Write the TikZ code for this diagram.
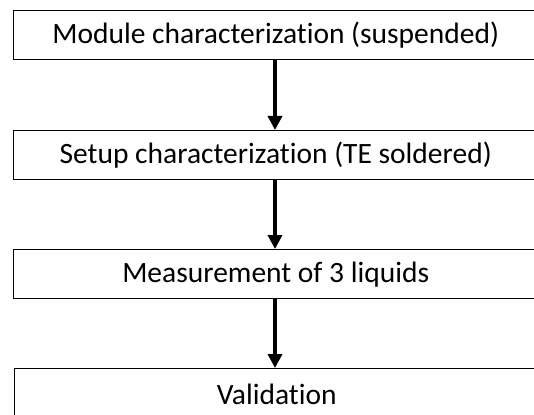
\documentclass[tikz,border=0pt]{standalone}
\usepackage{fontspec}
\setmainfont{Carlito}[RawFeature={-liga;-clig}]
\usetikzlibrary{arrows.meta}
\begin{document}
\begin{tikzpicture}[x=1pt,y=-1pt,
  stepbox/.style={draw=black,line width=1.4pt,minimum width=524pt,minimum height=49pt,inner sep=0pt,font=\fontsize{29.5}{34}\selectfont,anchor=north west},
  flow/.style={line width=4.5pt,-{Triangle[width=14pt,length=14pt]}}]
\useasboundingbox (0,0) rectangle (534,414);
\clip (0,0) rectangle (534,414);
\fill[white] (0,0) rectangle (534,414);
\node[stepbox] (a) at (13,10) {Module characterization (suspended)};
\node[stepbox] (b) at (13,130) {Setup characterization (TE soldered)};
\node[stepbox] (c) at (13,249) {Measurement of 3 liquids};
\node[stepbox,minimum height=52pt] (d) at (14,368) {Validation};
\draw[flow] (a.south -| 275,0) -- (b.north -| 275,0);
\draw[flow] (b.south -| 275,0) -- (c.north -| 275,0);
\draw[flow] (c.south -| 275,0) -- (d.north -| 275,0);
\end{tikzpicture}
\end{document}
